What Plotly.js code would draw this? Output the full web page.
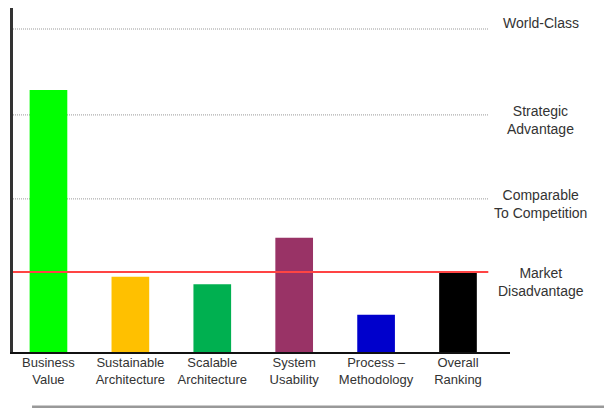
<!DOCTYPE html>
<html>
<head>
<meta charset="utf-8">
<script src="https://cdn.plot.ly/plotly-3.0.1.min.js"></script>
<style>html,body{margin:0;padding:0;background:#fff;}#chart{width:604px;height:408px;}</style>
</head>
<body>
<div id="chart"></div>
<script>
const categories = ["Business<br>Value", "Sustainable<br>Architecture", "Scalable<br>Architecture", "System<br>Usability", "Process –<br>Methodology", "Overall<br>Ranking"];
const scores = [81.1, 23.3, 21.0, 35.4, 11.5, 24.8];
const barColors = ["#00FF00", "#FFC000", "#00B050", "#993366", "#0000CC", "#000000"];
const levelNames = ["World-Class", "Strategic<br>Advantage", "Comparable<br>To Competition", "Market<br>Disadvantage"];
const levelValues = [100, 73.4, 47.4, 24.8];
const levelShift = [6, -5, -5, -10];

const trace = {
  type: "bar",
  x: categories,
  y: scores,
  marker: {color: barColors, line: {width: 0}},
  width: 0.46,
  hoverinfo: "skip"
};

const shapes = [];
levelValues.forEach((v, i) => {
  const isMarket = i === levelValues.length - 1;
  shapes.push({
    type: "line", xref: "x", yref: "y",
    x0: -0.433, x1: 5.37, y0: v, y1: v,
    line: isMarket ? {color: "#FF4444", width: 2} : {color: "#999999", width: 1, dash: "1px,1px"},
    layer: isMarket ? "above" : "below"
  });
});
shapes.push({type: "line", xref: "paper", yref: "paper", x0: 0.0383, x1: 1.2, y0: -0.16, y1: -0.16, line: {color: "#999999", width: 3}});

const annotations = levelNames.map((t, i) => ({
  text: t, xref: "paper", yref: "y", x: 1.062, y: levelValues[i], yshift: levelShift[i],
  xanchor: "center", yanchor: "middle", showarrow: false, align: "center",
  font: {family: "Liberation Sans, Arial, sans-serif", size: 14, color: "#333333"}
}));

const layout = {
  width: 604, height: 408,
  margin: {l: 13, r: 94, t: 8, b: 56, pad: 0},
  paper_bgcolor: "#ffffff", plot_bgcolor: "#ffffff",
  showlegend: false,
  xaxis: {
    type: "category", range: [-0.433, 5.635],
    showgrid: false, zeroline: false,
    showline: true, linecolor: "#111111", linewidth: 2,
    ticks: "", ticklen: 0, ticklabelstandoff: -3,
    tickfont: {family: "Liberation Sans, Arial, sans-serif", size: 13, color: "#333333"},
    fixedrange: true
  },
  yaxis: {
    range: [0, 106.5], showgrid: false, zeroline: false,
    showline: true, linecolor: "#333333", linewidth: 3,
    showticklabels: false, ticks: "", fixedrange: true
  },
  shapes: shapes,
  annotations: annotations
};

Plotly.newPlot("chart", [trace], layout, {displayModeBar: false, staticPlot: true});
</script>
</body>
</html>
